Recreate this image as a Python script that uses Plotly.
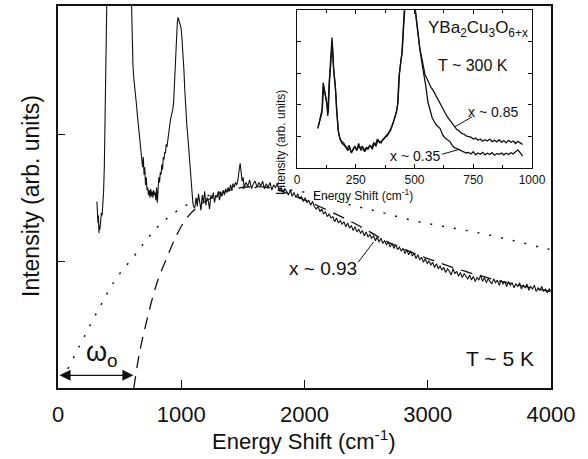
import plotly.graph_objects as go

# ---------------- main panel data (T ~ 5 K, x ~ 0.93) ----------------
main_x = [316, 320, 324, 328, 332, 336, 340, 346, 352, 358, 364, 370, 376, 382, 388, 394, 400,
          590, 596, 602, 608, 614, 620, 626, 632, 638, 644, 650, 656, 662, 668, 674, 680, 686, 692, 698,
          704, 710, 716, 722, 728, 734, 740, 746, 752, 758, 764, 770, 776, 782, 788, 794, 800, 806, 812,
          818, 824, 830, 836, 842, 848, 854, 860, 866, 872, 878, 884, 890, 896, 902, 908, 914, 920, 926,
          932, 938, 944, 950, 956, 962, 968, 974, 980, 986, 992, 998, 1004, 1010, 1016, 1022, 1028, 1034,
          1040, 1046, 1052, 1058, 1064, 1070, 1076, 1082, 1088, 1094, 1100, 1106,
          1110, 1120, 1130, 1140, 1150, 1160, 1170, 1180, 1190, 1200, 1210, 1220, 1230, 1240, 1250, 1260,
          1270, 1280, 1290, 1300, 1310, 1320, 1330, 1340, 1350, 1360, 1370, 1380, 1390, 1400, 1410, 1420,
          1430, 1440, 1450, 1460, 1470, 1478, 1486, 1494, 1502, 1510, 1525, 1540, 1555, 1570, 1585, 1600,
          1615, 1630, 1645, 1660, 1675, 1690, 1705, 1720, 1735, 1750, 1765, 1780, 1795, 1810, 1825, 1840,
          1855, 1870, 1885, 1900, 1915, 1930, 1945, 1960, 1975, 1990, 2005, 2020, 2035, 2050, 2065, 2080,
          2095, 2110, 2125, 2140, 2155, 2170, 2185, 2200, 2215, 2230, 2245, 2260, 2275, 2290, 2305, 2320,
          2335, 2350, 2365, 2380, 2395, 2410, 2425, 2440, 2455, 2470, 2485, 2500, 2515, 2530, 2545, 2560,
          2575, 2590, 2605, 2620, 2635, 2650, 2665, 2680, 2695, 2710, 2725, 2740, 2755, 2770, 2785, 2800,
          2815, 2830, 2845, 2860, 2875, 2890, 2905, 2920, 2935, 2950, 2965, 2980, 2995, 3010, 3025, 3040,
          3055, 3070, 3085, 3100, 3115, 3130, 3145, 3160, 3175, 3190, 3205, 3220, 3235, 3250, 3265, 3280,
          3295, 3310, 3325, 3340, 3355, 3370, 3385, 3400, 3415, 3430, 3445, 3460, 3475, 3490, 3505, 3520,
          3535, 3550, 3565, 3580, 3595, 3610, 3625, 3640, 3655, 3670, 3685, 3700, 3715, 3730, 3745, 3760,
          3775, 3790, 3805, 3820, 3835, 3850, 3865, 3880, 3895, 3910, 3925, 3940, 3955, 3970, 3985, 4000]
main_y = [1.47, 1.40, 1.30, 1.36, 1.22, 1.28, 1.25, 1.35, 1.38, 1.36, 1.45, 1.55, 1.75, 2.10, 2.60, 3.10, 3.30,
          3.30, 3.00, 2.75, 2.55, 2.45, 2.40, 2.36, 2.30, 2.22, 2.15, 2.08, 2.02, 1.96, 1.90, 1.85, 1.80, 1.74, 1.82, 1.68,
          1.74, 1.60, 1.66, 1.56, 1.58, 1.52, 1.56, 1.50, 1.57, 1.51, 1.55, 1.50, 1.56, 1.52, 1.54, 1.48, 1.58, 1.46, 1.60,
          1.66, 1.62, 1.70, 1.68, 1.76, 1.72, 1.82, 1.80, 1.86, 1.85, 1.92, 1.90, 1.96, 1.98, 2.04, 2.08, 2.12, 2.14, 2.16,
          2.20, 2.25, 2.40, 2.55, 2.70, 2.80, 2.88, 2.92, 2.90, 2.88, 2.86, 2.84, 2.78, 2.70, 2.62, 2.50, 2.36, 2.22,
          2.12, 2.06, 2.00, 1.92, 1.80, 1.70, 1.62, 1.55, 1.50, 1.46, 1.43, 1.42,
          1.42, 1.50, 1.43, 1.53, 1.45, 1.40, 1.52, 1.46, 1.55, 1.44, 1.50, 1.47, 1.41, 1.52, 1.49, 1.54,
          1.46, 1.52, 1.50, 1.55, 1.48, 1.53, 1.51, 1.56, 1.52, 1.57, 1.54, 1.58, 1.55, 1.60, 1.56, 1.61,
          1.58, 1.62, 1.60, 1.64, 1.72, 1.77, 1.70, 1.63, 1.66, 1.58, 1.62, 1.59, 1.64, 1.57, 1.61, 1.63,
          1.58, 1.62, 1.59, 1.63, 1.57, 1.61, 1.58, 1.62, 1.56, 1.60, 1.58, 1.61, 1.55, 1.58, 1.54, 1.57,
          1.55, 1.52, 1.56, 1.51, 1.54, 1.50, 1.53, 1.49, 1.51, 1.47, 1.50, 1.46, 1.48, 1.44, 1.47, 1.43,
          1.41, 1.43, 1.39, 1.41, 1.37, 1.39, 1.35, 1.37, 1.34, 1.35, 1.31, 1.34, 1.30, 1.32, 1.29, 1.31,
          1.27, 1.30, 1.26, 1.28, 1.24, 1.27, 1.23, 1.25, 1.22, 1.24, 1.20, 1.23, 1.19, 1.21, 1.18, 1.20,
          1.16, 1.19, 1.15, 1.18, 1.14, 1.16, 1.13, 1.15, 1.11, 1.14, 1.10, 1.13, 1.09, 1.11, 1.08, 1.10,
          1.06, 1.09, 1.05, 1.08, 1.04, 1.06, 1.02, 1.05, 1.01, 1.03, 0.99, 1.02, 0.98, 1.00, 0.97, 0.99,
          0.95, 0.98, 0.94, 0.96, 0.93, 0.95, 0.91, 0.94, 0.92, 0.89, 0.94, 0.90, 0.92, 0.88, 0.91, 0.87,
          0.90, 0.88, 0.86, 0.89, 0.85, 0.88, 0.84, 0.87, 0.85, 0.89, 0.84, 0.87, 0.83, 0.86, 0.84, 0.82,
          0.86, 0.83, 0.85, 0.81, 0.85, 0.82, 0.84, 0.80, 0.84, 0.81, 0.83, 0.79, 0.82, 0.80, 0.83, 0.78,
          0.81, 0.79, 0.82, 0.77, 0.80, 0.78, 0.81, 0.76, 0.79, 0.77, 0.80, 0.76, 0.78, 0.75, 0.78, 0.76]

# model curves
dash_x = [615, 660, 720, 800, 885, 960, 1045, 1150, 1290, 1500, 1700, 1900, 2100, 2400, 2700,
          3000, 3300, 3600, 4000]
dash_y = [0.00, 0.27, 0.53, 0.82, 1.03, 1.20, 1.34, 1.44, 1.52, 1.58, 1.58, 1.52, 1.44, 1.30, 1.14,
          1.02, 0.92, 0.84, 0.76]
dot_x = [80, 200, 340, 470, 610, 720, 830, 1005, 1200, 1400, 1600, 1800, 2070, 2345, 2600, 2880,
         3150, 3425, 3700, 3910, 4000]
dot_y = [0.15, 0.38, 0.64, 0.86, 1.03, 1.17, 1.29, 1.42, 1.51, 1.56, 1.58, 1.57, 1.53, 1.45, 1.39,
         1.32, 1.27, 1.22, 1.16, 1.11, 1.09]

main_xticks = [0, 1000, 2000, 3000, 4000]

# ---------------- inset data (T ~ 300 K) ----------------
ins_a_x = [88, 95, 100, 106, 111, 116, 121, 126, 131, 136, 142, 149, 155, 162, 168, 175, 182, 190,
           198, 206, 214, 222, 230, 238, 246, 254, 262, 270, 278, 286, 294, 302, 310, 318, 326, 334,
           342, 350, 358, 366, 374, 382, 390, 398, 406, 414, 422, 428, 434, 440, 446, 452, 458, 500,
           510, 515, 522, 532, 540, 545, 552, 560, 570, 580, 590, 600, 610, 620, 630, 640, 650, 660,
           670, 680, 690, 700, 710, 720, 730, 740, 750, 760, 770, 780, 790, 800, 810, 820, 830, 840,
           850, 860, 870, 880, 890, 900, 910, 920, 930, 940, 950, 960]
ins_a_y = [1.25, 1.45, 1.60, 1.75, 2.70, 2.55, 2.30, 2.10, 1.65, 2.60, 3.40, 4.13, 3.20, 2.70, 1.90,
           1.20, 0.95, 0.85, 0.80, 0.70, 0.62, 0.72, 0.50, 0.58, 0.70, 0.55, 0.78, 0.62, 0.70, 0.55,
           0.65, 0.60, 0.72, 0.65, 0.80, 0.75, 0.92, 0.85, 0.80, 0.92, 0.95, 1.05, 1.10, 1.20, 1.35,
           1.55, 1.75, 2.00, 2.90, 3.30, 3.60, 4.40, 5.20, 5.20, 4.60, 4.19, 3.80, 3.44, 3.10, 2.94,
           2.85, 2.72, 2.55, 2.45, 2.30, 2.20, 2.00, 1.88, 1.75, 1.62, 1.52, 1.40, 1.30, 1.22, 1.18,
           1.10, 1.08, 1.02, 1.00, 0.98, 0.92, 0.95, 0.88, 0.92, 0.85, 0.90, 0.86, 0.92, 0.84, 0.88,
           0.83, 0.90, 0.82, 0.87, 0.80, 0.88, 0.82, 0.86, 0.78, 0.85, 0.80, 0.75]
ins_b_x = [90, 97, 102, 108, 113, 118, 123, 128, 133, 138, 144, 150, 157, 164, 170, 177, 184, 192,
           200, 208, 216, 224, 232, 240, 248, 256, 264, 272, 280, 288, 296, 304, 312, 320, 328, 336,
           344, 352, 360, 368, 376, 384, 392, 400, 408, 416, 424, 430, 436, 442, 448, 454, 460, 500,
           510, 516, 524, 532, 540, 548, 557, 565, 575, 585, 595, 609, 620, 630, 640, 651, 660, 670,
           680, 690, 700, 710, 720, 730, 740, 750, 760, 770, 780, 790, 800, 810, 820, 830, 840, 850,
           860, 870, 880, 890, 900, 910, 920, 930, 940, 950, 960]
ins_b_y = [1.30, 1.50, 1.70, 1.90, 2.60, 2.45, 2.20, 2.00, 1.75, 2.70, 3.50, 4.00, 3.00, 2.50, 1.75,
           1.10, 0.90, 0.78, 0.72, 0.66, 0.55, 0.65, 0.48, 0.62, 0.66, 0.58, 0.72, 0.56, 0.64, 0.52,
           0.62, 0.66, 0.70, 0.60, 0.76, 0.70, 0.88, 0.80, 0.85, 0.90, 1.00, 1.02, 1.15, 1.25, 1.40,
           1.60, 1.80, 2.10, 3.00, 3.40, 3.70, 4.50, 5.20, 5.20, 4.50, 4.10, 3.70, 3.30, 3.00, 2.60,
           2.09, 1.85, 1.60, 1.45, 1.35, 1.25, 1.05, 0.95, 0.90, 0.84, 0.72, 0.65, 0.62, 0.58, 0.55,
           0.52, 0.48, 0.50, 0.45, 0.52, 0.42, 0.48, 0.44, 0.50, 0.42, 0.47, 0.43, 0.49, 0.41, 0.46,
           0.44, 0.48, 0.42, 0.47, 0.43, 0.49, 0.45, 0.52, 0.58, 0.48, 0.38]

inset_xticks = [0, 250, 500, 750, 1000]

FONT = "Liberation Sans, Arial, Helvetica, sans-serif"
BLACK = "#111111"

fig = go.Figure()
fig.add_trace(go.Scatter(x=dot_x, y=dot_y, mode="lines", line=dict(color=BLACK, width=1.5, dash="2px,10px", shape="spline"),
                         showlegend=False, hoverinfo="skip"))
fig.add_trace(go.Scatter(x=dash_x, y=dash_y, mode="lines", line=dict(color=BLACK, width=1.3, dash="12px,8px", shape="spline"),
                         showlegend=False, hoverinfo="skip"))
fig.add_trace(go.Scatter(x=main_x, y=main_y, mode="lines", line=dict(color=BLACK, width=1.1),
                         showlegend=False))
fig.add_trace(go.Scatter(x=ins_a_x, y=ins_a_y, mode="lines", line=dict(color=BLACK, width=1.3),
                         xaxis="x2", yaxis="y2", showlegend=False))
fig.add_trace(go.Scatter(x=ins_b_x, y=ins_b_y, mode="lines", line=dict(color=BLACK, width=1.3),
                         xaxis="x2", yaxis="y2", showlegend=False))

ax_common = dict(showgrid=False, zeroline=False, showline=True, linecolor=BLACK, tickcolor=BLACK)

fig.update_layout(
    width=588, height=459,
    margin=dict(l=58, r=37, t=4, b=71),
    paper_bgcolor="white", plot_bgcolor="white",
    font=dict(family=FONT, color=BLACK),
    xaxis=dict(range=[0, 4000], tickvals=main_xticks, ticks="inside", ticklen=8, tickwidth=1.3,
               linewidth=1.6, mirror=True, tickfont=dict(size=22), ticklabelstandoff=6, **ax_common),
    yaxis=dict(range=[0, 3.01], tickvals=[1, 2], ticks="inside", ticklen=7, tickwidth=1.3,
               linewidth=1.6, mirror=True, showticklabels=False, **ax_common),
    xaxis2=dict(domain=[0.4848, 0.9615], anchor="y2", range=[0, 1000], tickvals=inset_xticks,
                ticks="inside", ticklen=4, tickwidth=1, linewidth=1.3, mirror="ticks",
                minor=dict(dtick=125, ticks="inside", ticklen=3, tickcolor=BLACK),
                tickfont=dict(size=12), ticklabelstandoff=0, **ax_common),
    yaxis2=dict(domain=[0.5755, 0.9896], anchor="x2", range=[0, 5], tickvals=[1, 2, 3, 4],
                ticks="inside", ticklen=4, tickwidth=1, linewidth=1.3, mirror="ticks",
                showticklabels=False, **ax_common),
)

ann = [
    # main axis titles
    dict(text="Intensity (arb. units)", xref="paper", yref="paper", x=-0.0548, y=0.5026,
         textangle=-90, font=dict(size=23), showarrow=False, xanchor="center", yanchor="middle"),
    dict(text="Energy Shift (cm<sup>-1</sup>)", xref="paper", yref="paper", x=0.499, y=-0.135,
         font=dict(size=22), showarrow=False, xanchor="center", yanchor="middle"),
    # main labels
    dict(text="T ~ 5 K", x=3586, y=0.235, xref="x", yref="y", font=dict(size=21), showarrow=False),
    dict(text="x ~ 0.93", x=2150, y=0.94, xref="x", yref="y", font=dict(size=19), showarrow=False),
    dict(text="ω<sub>o</sub>", x=357, y=0.27, xref="x", yref="y", font=dict(size=27), showarrow=False),
    # omega_0 double arrow
    dict(x=612, y=0.10, ax=0, ay=0.10, xref="x", yref="y", axref="x", ayref="y", text="",
         showarrow=True, arrowhead=2, arrowside="end+start", arrowsize=1.7, arrowwidth=1.3,
         arrowcolor=BLACK, standoff=0, startstandoff=0),
    # inset titles and labels
    dict(text="Intensity (arb. units)", xref="paper", yref="paper", x=(281 - 58) / 493,
         y=(388 - 87) / 384, textangle=-90, font=dict(size=12), showarrow=False),
    dict(text="Energy Shift (cm<sup>-1</sup>)", xref="paper", yref="paper", x=(415 - 58) / 493,
         y=(388 - 194) / 384, font=dict(size=12), showarrow=False),
    dict(text="YBa<sub>2</sub>Cu<sub>3</sub>O<sub>6+x</sub>", x=770, y=4.40, xref="x2", yref="y2",
         font=dict(size=17), showarrow=False),
    dict(text="T ~ 300 K", x=749, y=3.25, xref="x2", yref="y2", font=dict(size=16), showarrow=False),
    dict(text="x ~ 0.85", x=834, y=1.78, xref="x2", yref="y2", font=dict(size=14), showarrow=False),
    dict(text="x ~ 0.35", x=502, y=0.38, xref="x2", yref="y2", font=dict(size=14), showarrow=False),
]
fig.update_layout(annotations=ann)

shapes = [
    dict(type="line", xref="x", yref="y", x0=2435, y0=0.99, x1=2560, y1=1.15, line=dict(color=BLACK, width=1)),
    dict(type="line", xref="x2", yref="y2", x0=745, y0=1.62, x1=672, y1=1.31, line=dict(color=BLACK, width=1)),
    dict(type="line", xref="x2", yref="y2", x0=617, y0=0.44, x1=694, y1=0.60, line=dict(color=BLACK, width=1)),
]
fig.update_layout(shapes=shapes)

fig.write_html("out.html", config={"displayModeBar": False},
               post_script="document.body.style.margin='0';document.body.style.overflow='hidden';")
